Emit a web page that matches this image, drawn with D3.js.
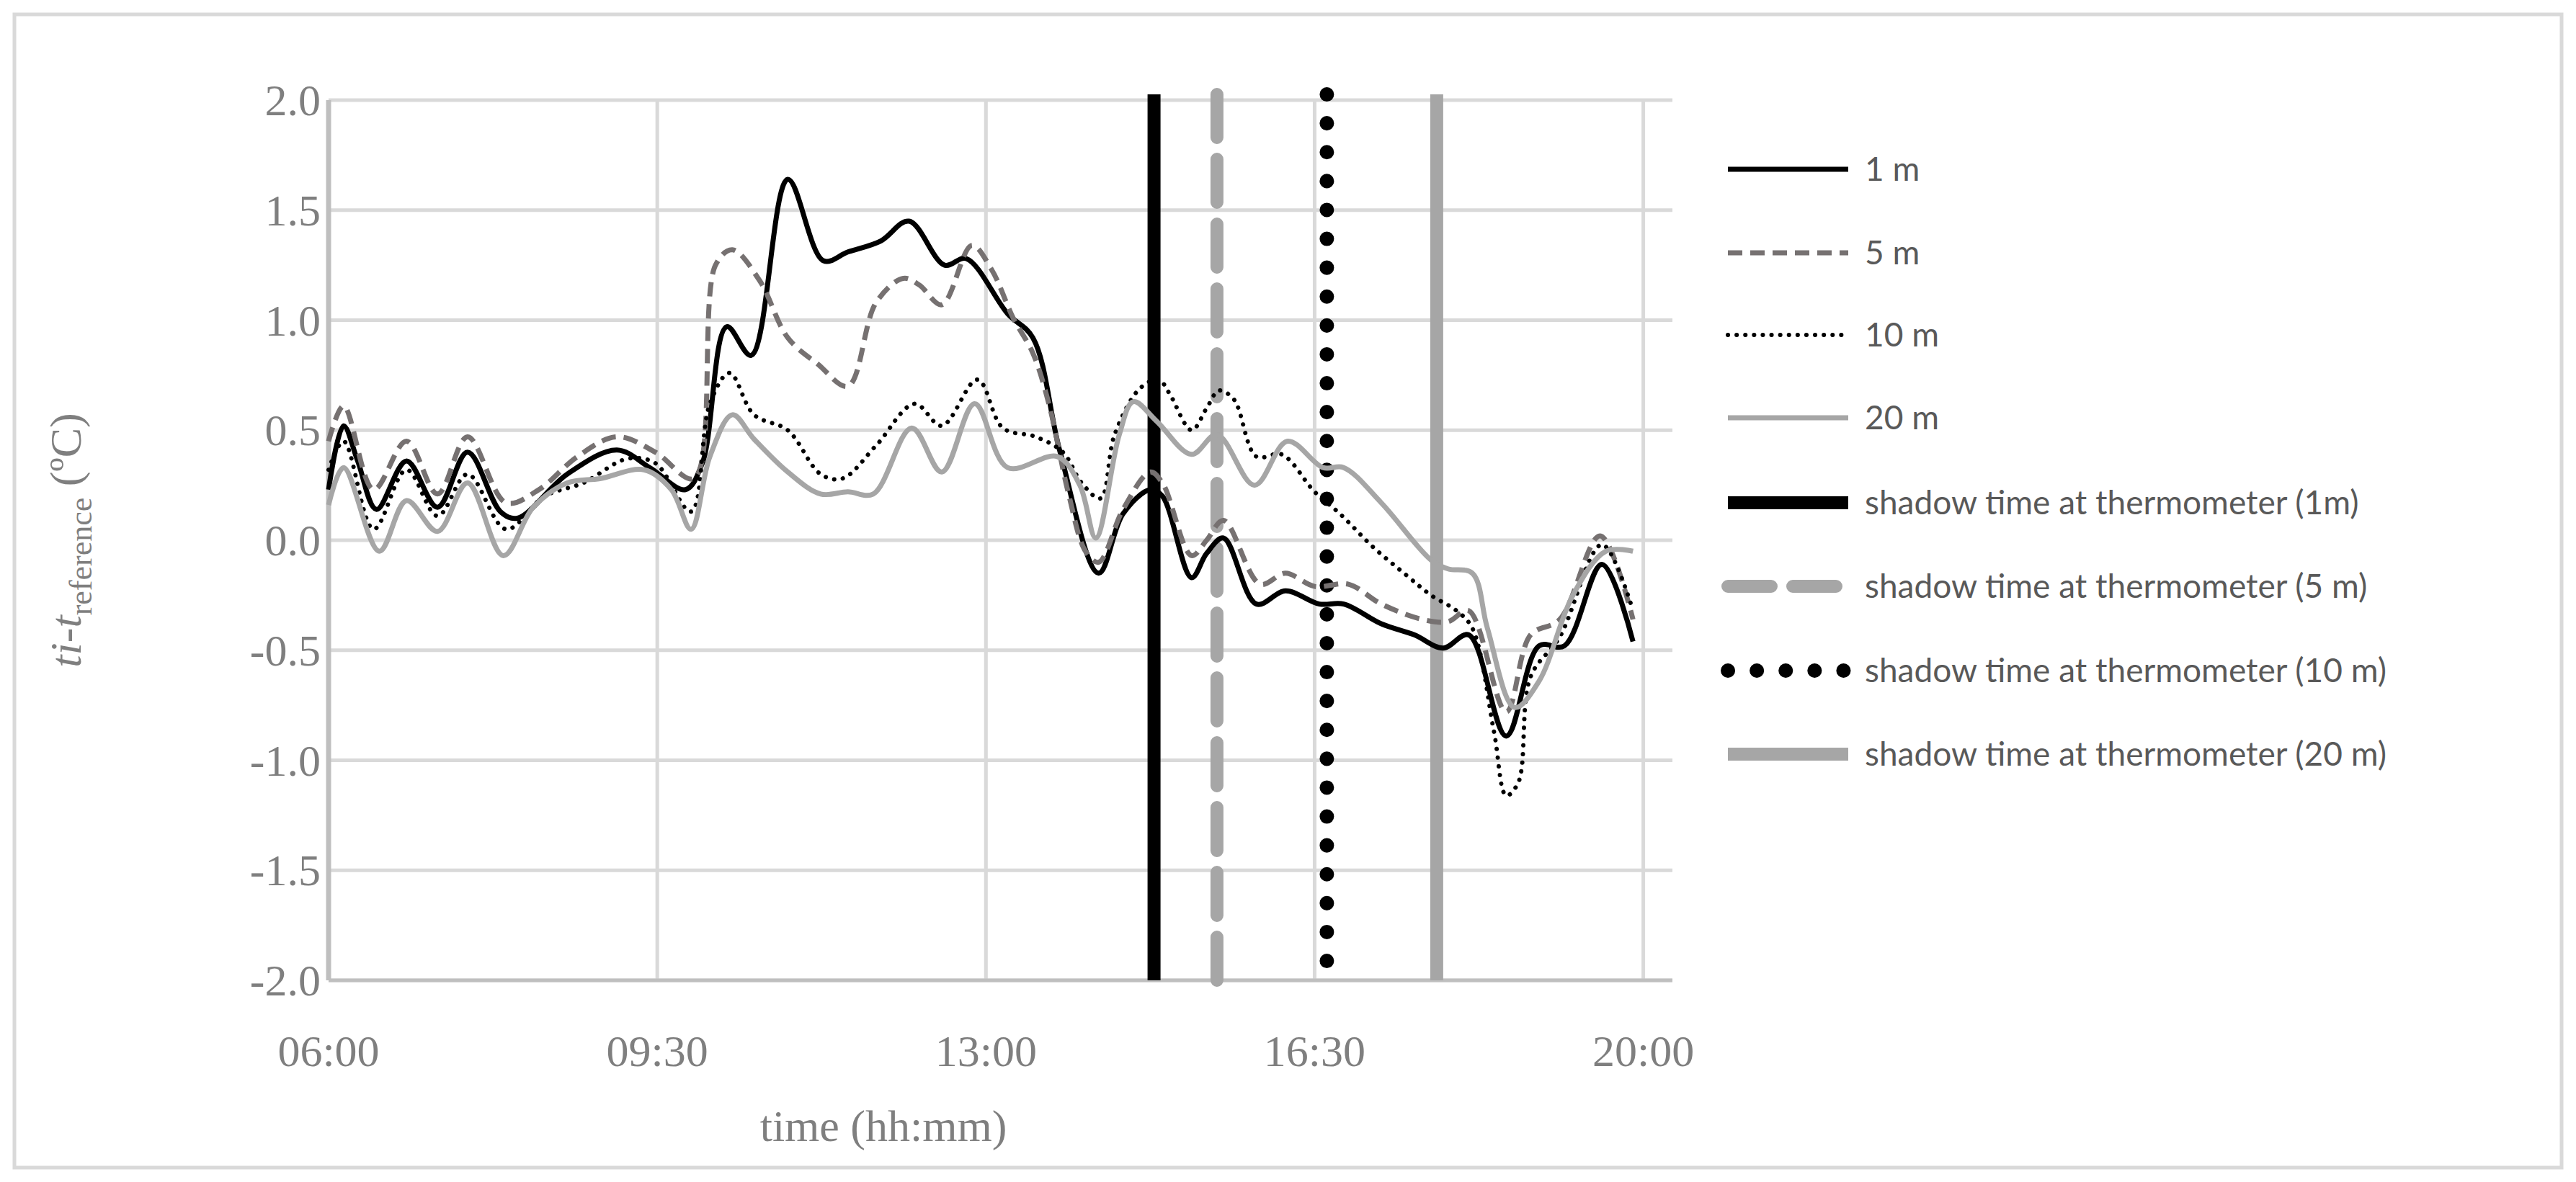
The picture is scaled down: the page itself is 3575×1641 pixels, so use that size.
<!DOCTYPE html>
<html><head><meta charset="utf-8">
<script src="https://cdn.jsdelivr.net/npm/d3@7"></script>
<style>body{margin:0;background:#fff}</style>
</head><body>
<script>
// time in decimal hours, values in ºC
const t1 = [6.0,6.16,6.31,6.51,6.83,7.16,7.48,7.83,8.01,8.54,9.07,9.42,9.80,9.98,10.24,10.50,10.89,11.27,11.53,11.88,12.18,12.56,12.79,13.23,13.50,13.79,14.20,14.46,14.75,14.88,15.19,15.35,15.53,15.88,16.19,16.55,16.81,17.21,17.56,17.87,18.14,18.54,18.89,19.16,19.56,19.89];
const v1 = [0.23,0.52,0.36,0.14,0.36,0.15,0.40,0.13,0.10,0.30,0.41,0.33,0.23,0.35,0.97,0.84,1.64,1.27,1.31,1.36,1.45,1.25,1.28,1.03,0.92,0.40,-0.15,0.12,0.23,0.20,-0.17,-0.06,0.01,-0.29,-0.23,-0.29,-0.29,-0.38,-0.43,-0.49,-0.43,-0.89,-0.48,-0.48,-0.11,-0.46];

const t5 = [6.0,6.16,6.48,6.83,7.16,7.48,7.89,8.24,8.65,9.07,9.48,9.89,10.12,10.30,10.59,10.89,11.21,11.53,11.83,12.12,12.29,12.53,12.85,13.06,13.29,13.50,13.67,13.88,14.06,14.20,14.46,14.75,14.88,15.19,15.35,15.53,15.92,16.19,16.50,16.86,17.21,17.65,17.92,18.14,18.54,18.80,19.11,19.54,19.89];
const v5 = [0.45,0.61,0.23,0.45,0.21,0.47,0.17,0.23,0.38,0.47,0.40,0.28,1.25,1.32,1.18,0.92,0.80,0.70,1.08,1.19,1.16,1.07,1.34,1.23,1.01,0.85,0.62,0.21,-0.05,-0.10,0.14,0.31,0.26,-0.07,0.0,0.09,-0.20,-0.15,-0.21,-0.20,-0.29,-0.36,-0.37,-0.32,-0.78,-0.43,-0.36,0.02,-0.36];

const t10 = [6.0,6.16,6.48,6.83,7.16,7.48,7.89,8.30,8.71,9.18,9.48,9.86,10.06,10.27,10.53,10.89,11.24,11.47,11.83,12.24,12.53,12.91,13.18,13.53,13.82,14.02,14.22,14.37,14.64,14.84,14.95,15.19,15.35,15.48,15.64,15.88,16.15,16.50,16.77,17.12,17.48,17.74,18.01,18.18,18.41,18.54,18.67,18.80,19.11,19.56,19.89];
const v10 = [0.32,0.45,0.05,0.32,0.11,0.30,0.05,0.20,0.26,0.37,0.35,0.13,0.62,0.76,0.57,0.50,0.30,0.28,0.43,0.62,0.52,0.73,0.51,0.47,0.40,0.26,0.19,0.48,0.69,0.73,0.67,0.50,0.60,0.68,0.64,0.38,0.39,0.22,0.12,-0.03,-0.16,-0.25,-0.32,-0.40,-0.87,-1.16,-1.10,-0.62,-0.44,-0.02,-0.32];

const t20 = [6.0,6.16,6.54,6.83,7.16,7.48,7.86,8.18,8.54,8.89,9.36,9.65,9.86,10.06,10.30,10.53,10.89,11.24,11.53,11.80,12.21,12.53,12.88,13.23,13.76,14.00,14.17,14.42,14.57,14.82,15.19,15.46,15.86,16.21,16.59,16.81,17.21,17.74,17.92,18.18,18.34,18.63,18.89,19.25,19.60,19.89];
const v20 = [0.16,0.33,-0.05,0.18,0.04,0.26,-0.07,0.15,0.26,0.28,0.32,0.23,0.05,0.38,0.57,0.46,0.31,0.21,0.22,0.21,0.51,0.31,0.62,0.33,0.38,0.25,0.01,0.48,0.63,0.54,0.39,0.48,0.25,0.45,0.33,0.33,0.17,-0.09,-0.13,-0.15,-0.40,-0.76,-0.64,-0.25,-0.05,-0.05];

const shadowTimes = [14.79, 15.46, 16.63, 17.80];
const legendLabels = ["1 m","5 m","10 m","20 m","shadow time at thermometer (1m)","shadow time at thermometer (5 m)","shadow time at thermometer (10 m)","shadow time at thermometer (20 m)"];
const yTicks = [-2,-1.5,-1,-0.5,0,0.5,1,1.5,2];
const xTicks = [6,9.5,13,16.5,20];

const W = 3575, H = 1641;
const svg = d3.select("body").append("svg").attr("width", W).attr("height", H);
svg.append("rect").attr("x",20).attr("y",20).attr("width",W-40).attr("height",H-40)
  .attr("fill","#fff").attr("stroke","#d9d9d9").attr("stroke-width",5);

const x = d3.scaleLinear().domain([6, 20.31]).range([456, 2321]);
const y = d3.scaleLinear().domain([-2, 2]).range([1361, 139]);

const grid = svg.append("g");
grid.selectAll(".hg").data(yTicks).join("line")
  .attr("x1", x(6)).attr("x2", x(20.31)).attr("y1", d => y(d)).attr("y2", d => y(d))
  .attr("stroke", "#d9d9d9").attr("stroke-width", 5);
grid.selectAll(".vg").data(xTicks.slice(1)).join("line")
  .attr("x1", d => x(d)).attr("x2", d => x(d)).attr("y1", y(2)).attr("y2", y(-2))
  .attr("stroke", "#d9d9d9").attr("stroke-width", 5);
svg.append("line").attr("x1", x(6)).attr("x2", x(6)).attr("y1", y(2)).attr("y2", y(-2))
  .attr("stroke", "#bfbfbf").attr("stroke-width", 7);
svg.append("line").attr("x1", x(6)).attr("x2", x(20.31)).attr("y1", y(-2)).attr("y2", y(-2))
  .attr("stroke", "#bfbfbf").attr("stroke-width", 5);

const tickFont = "'Liberation Serif', 'Times New Roman', serif";
svg.append("g").selectAll("text").data(yTicks).join("text")
  .attr("x", 445).attr("y", d => y(d) + 21).attr("text-anchor", "end")
  .attr("font-family", tickFont).attr("font-size", 62).attr("fill", "#7f7f7f")
  .text(d => d3.format(".1f")(d).replace("−","-"));
svg.append("g").selectAll("text").data(xTicks).join("text")
  .attr("x", d => x(d)).attr("y", 1480).attr("text-anchor", "middle")
  .attr("font-family", tickFont).attr("font-size", 62).attr("fill", "#7f7f7f")
  .text(d => { const h = Math.floor(d), m = Math.round((d - h) * 60); return String(h).padStart(2,"0") + ":" + String(m).padStart(2,"0"); });

svg.append("text").attr("x", 1226).attr("y", 1584).attr("text-anchor", "middle")
  .attr("font-family", tickFont).attr("font-size", 62).attr("fill", "#7f7f7f").text("time (hh:mm)");
const yt = svg.append("text").attr("transform", "translate(112,750) rotate(-90)").attr("text-anchor", "middle")
  .attr("font-family", tickFont).attr("font-size", 62).attr("fill", "#7f7f7f");
yt.append("tspan").attr("font-style", "italic").text("ti");
yt.append("tspan").text("-");
yt.append("tspan").attr("font-style", "italic").text("t");
yt.append("tspan").attr("font-size", 44).attr("dy", 15).text("reference");
yt.append("tspan").attr("dy", -15).text(" (ºC)");

const styles = [
  {stroke: "#000000", w: 7, dash: null, cap: "butt"},
  {stroke: "#767171", w: 7, dash: "20,11", cap: "butt"},
  {stroke: "#000000", w: 6, dash: "0.1,12", cap: "round"},
  {stroke: "#a6a6a6", w: 7, dash: null, cap: "butt"},
  {stroke: "#000000", w: 18, dash: null, cap: "butt"},
  {stroke: "#a6a6a6", w: 18, dash: "60,30", cap: "round"},
  {stroke: "#000000", w: 20, dash: "0.1,40", cap: "round"},
  {stroke: "#a6a6a6", w: 18, dash: null, cap: "butt"}
];

const series = [[t1,v1],[t5,v5],[t10,v10],[t20,v20]];
const line = d3.line().x(d => x(d[0])).y(d => y(d[1])).curve(d3.curveCatmullRom.alpha(0.5));

// shadow lines
svg.append("g").selectAll("line").data(shadowTimes).join("line")
  .attr("x1", d => x(d)).attr("x2", d => x(d)).attr("y1", y(2) - 8).attr("y2", y(-2))
  .attr("stroke", (d, i) => styles[4 + i].stroke).attr("stroke-width", (d, i) => styles[4 + i].w)
  .attr("stroke-dasharray", (d, i) => styles[4 + i].dash).attr("stroke-linecap", (d, i) => styles[4 + i].cap);

svg.append("g").selectAll("path").data(series).join("path")
  .attr("d", d => line(d[0].map((t, i) => [t, d[1][i]])))
  .attr("fill", "none")
  .attr("stroke", (d, i) => styles[i].stroke).attr("stroke-width", (d, i) => styles[i].w)
  .attr("stroke-dasharray", (d, i) => styles[i].dash).attr("stroke-linecap", (d, i) => styles[i].cap)
  .attr("stroke-linejoin", "round");

// legend
const ly = [235, 351, 465, 580, 698, 814, 931, 1047];
const lg = svg.append("g");
legendLabels.forEach((lab, i) => {
  const s = styles[i];
  lg.append("line").attr("x1", 2398).attr("x2", 2565).attr("y1", ly[i]).attr("y2", ly[i])
    .attr("stroke", s.stroke).attr("stroke-width", s.w).attr("stroke-dasharray", s.dash)
    .attr("stroke-linecap", s.cap);
  lg.append("text").attr("x", 2588).attr("y", ly[i] + 16)
    .attr("font-family", "Lato, 'Open Sans', sans-serif").attr("font-size", 46).attr("fill", "#595959")
    .text(lab);
});
</script>
</body></html>
